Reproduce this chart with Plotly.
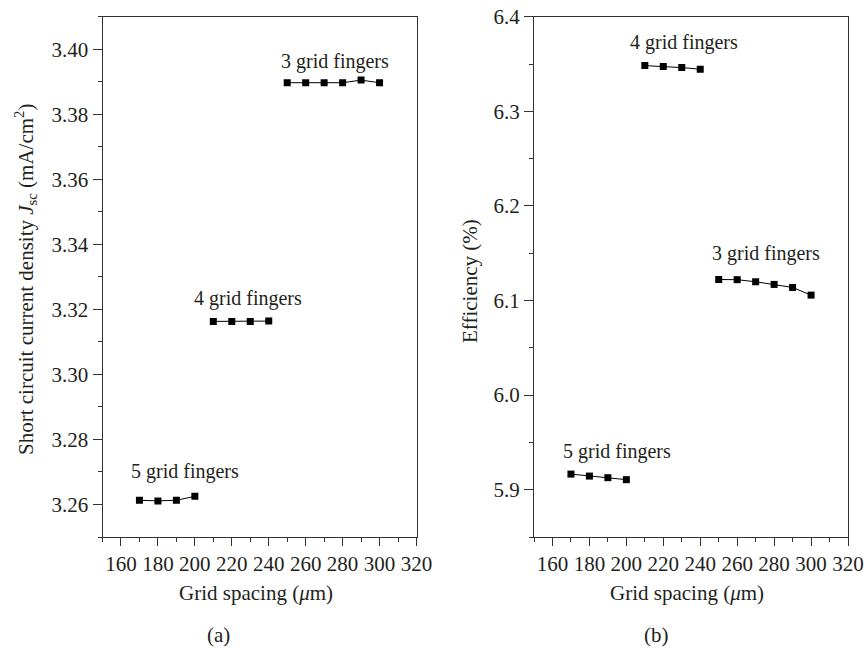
import plotly.graph_objects as go

# Grid spacing (µm) per finger count
x3 = [250, 260, 270, 280, 290, 300]
x4 = [210, 220, 230, 240]
x5 = [170, 180, 190, 200]

# (a) Short circuit current density Jsc (mA/cm^2)
jsc3 = [3.3897, 3.3897, 3.3897, 3.3897, 3.3905, 3.3897]
jsc4 = [3.3163, 3.3163, 3.3163, 3.3164]
jsc5 = [3.2613, 3.2611, 3.2613, 3.2625]

# (b) Efficiency (%)
eff3 = [6.1222, 6.1220, 6.1198, 6.1170, 6.1138, 6.1057]
eff4 = [6.3483, 6.3473, 6.3462, 6.3445]
eff5 = [5.9165, 5.9144, 5.9127, 5.9106]

labels = ["3 grid fingers", "4 grid fingers", "5 grid fingers"]

W, H = 866, 650
FONT = "Liberation Serif"
TXT = "#231f20"
AX = "#333333"

fig = go.Figure()

def add_series(x, y, xa, ya):
    fig.add_trace(go.Scatter(
        x=x, y=y, mode="lines+markers", xaxis=xa, yaxis=ya,
        line=dict(color="#000000", width=1),
        marker=dict(symbol="square", size=7, color="#000000"),
        showlegend=False, hoverinfo="x+y"))

for x, y in [(x3, jsc3), (x4, jsc4), (x5, jsc5)]:
    add_series(x, y, "x", "y")
for x, y in [(x3, eff3), (x4, eff4), (x5, eff5)]:
    add_series(x, y, "x2", "y2")

def px_x(p):
    return p / W

def px_y(p):
    return 1 - p / H

common_x = dict(
    range=[150, 320], dtick=20, tick0=160, ticks="outside", ticklen=8,
    tickwidth=1, tickcolor=AX, showline=True, linecolor=AX,
    linewidth=1, mirror=True, showgrid=False, zeroline=False, automargin=False,
    tickfont=dict(family=FONT, size=21, color=TXT),
    minor=dict(dtick=10, tick0=150, ticks="outside", ticklen=4, tickcolor=AX, showgrid=False),
)
common_y = dict(
    ticks="outside", ticklen=9, tickwidth=1, tickcolor=AX,
    showline=True, linecolor=AX, linewidth=1, mirror=True,
    showgrid=False, zeroline=False, automargin=False,
    tickfont=dict(family=FONT, size=21, color=TXT),
)

fig.update_layout(
    width=W, height=H, margin=dict(l=0, r=0, t=0, b=0, autoexpand=False),
    paper_bgcolor="white", plot_bgcolor="white",
    font=dict(family=FONT, size=21, color=TXT),
    xaxis=dict(domain=[px_x(102.5), px_x(416.5)], anchor="y", **common_x),
    yaxis=dict(domain=[px_y(537), px_y(16.7)], anchor="x", range=[3.25, 3.41],
               dtick=0.02, tick0=3.26, tickformat=".2f",
               minor=dict(dtick=0.01, tick0=3.25, ticks="outside", ticklen=4, tickcolor=AX, showgrid=False),
               **common_y),
    xaxis2=dict(domain=[px_x(534), px_x(848)], anchor="y2", **common_x),
    yaxis2=dict(domain=[px_y(537), px_y(16.7)], anchor="x2", range=[5.85, 6.4],
                dtick=0.1, tick0=5.9, tickformat=".1f",
                minor=dict(dtick=0.05, tick0=5.85, ticks="outside", ticklen=4, tickcolor=AX, showgrid=False),
                **common_y),
)

ann = [
    dict(x=275.8, y=3.3962, xref="x", yref="y", text=labels[0]),
    dict(x=229, y=3.3234, xref="x", yref="y", text=labels[1]),
    dict(x=194.7, y=3.2701, xref="x", yref="y", text=labels[2]),
    dict(x=231, y=6.373, xref="x2", yref="y2", text=labels[1]),
    dict(x=275.8, y=6.1497, xref="x2", yref="y2", text=labels[0]),
    dict(x=194.9, y=5.940, xref="x2", yref="y2", text=labels[2]),
]
for a in ann:
    a.update(showarrow=False, font=dict(family=FONT, size=20, color=TXT))

titles = [
    dict(x=px_x(256), y=px_y(593), text="Grid spacing (<i>μ</i>m)"),
    dict(x=px_x(687), y=px_y(593), text="Grid spacing (<i>μ</i>m)"),
    dict(x=px_x(218), y=px_y(635), text="(a)"),
    dict(x=px_x(656), y=px_y(635), text="(b)"),
    dict(x=px_x(25), y=px_y(280), text="Short circuit current density <i>J</i><sub>sc</sub> (mA/cm<sup>2</sup>)", textangle=-90),
    dict(x=px_x(470), y=px_y(281), text="Efficiency (%)", textangle=-90),
]
for t in titles:
    t.update(xref="paper", yref="paper", showarrow=False,
             xanchor="center", yanchor="middle",
             font=dict(family=FONT, size=21, color=TXT))

fig.update_layout(annotations=ann + titles)

fig.write_html("out.html")
